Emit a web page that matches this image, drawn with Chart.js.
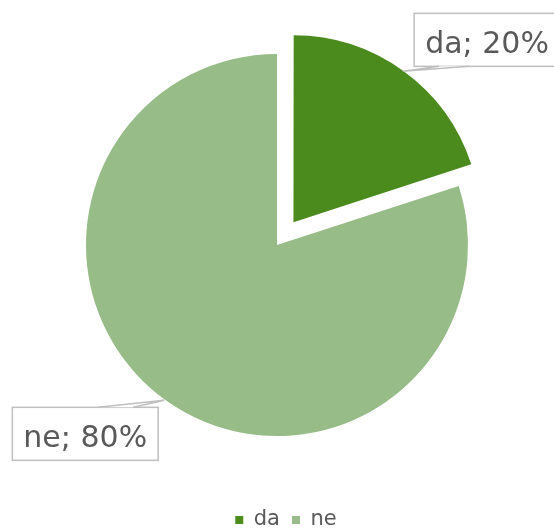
<!DOCTYPE html>
<html>
<head>
<meta charset="utf-8">
<script src="https://cdn.jsdelivr.net/npm/chart.js@4/dist/chart.umd.min.js"></script>
<style>
  html, body { margin: 0; padding: 0; background: #ffffff; }
  #wrap { width: 554px; height: 531px; position: relative; }
</style>
</head>
<body>
<div id="wrap"><canvas id="c" width="554" height="531"></canvas></div>
<script>
const categories = ["da", "ne"];
const values = [20, 80];
const sliceColors = ["#4b8b1d", "#97bc87"];
// Chart.js v4 translates an arc by offset/4, so 112 gives a 28px explode
const explode = [112, 0];
const explodedRadiusScale = 0.972;

const shrinkExploded = {
  id: "shrinkExploded",
  beforeDatasetsDraw(chart) {
    const meta = chart.getDatasetMeta(0);
    meta.data.forEach((arc) => {
      if ((arc.options.offset || 0) > 0 && !arc._shrunk) {
        arc.outerRadius = arc.outerRadius * explodedRadiusScale;
        arc._shrunk = true;
      }
    });
  }
};

const shiftLegend = {
  id: "shiftLegend",
  afterLayout(chart) {
    if (chart.legend) {
      chart.legend.left += 9;
      chart.legend.right += 9;
      chart.legend.top += 7.5;
      chart.legend.bottom += 7.5;
    }
  }
};

const calloutPlugin = {
  id: "callouts",
  afterDatasetsDraw(chart) {
    const ctx = chart.ctx;
    const meta = chart.getDatasetMeta(0);
    const total = values.reduce((a, b) => a + b, 0);
    ctx.save();
    ctx.font = "30px 'DejaVu Sans'";
    meta.data.forEach((arc, i) => {
      const p = arc.getProps(["x", "y", "startAngle", "endAngle", "outerRadius"], true);
      const off = (arc.options.offset || 0) / 4;
      const mid = (p.startAngle + p.endAngle) / 2;
      const cx = p.x + Math.cos(mid) * off;
      const cy = p.y + Math.sin(mid) * off;
      const tx = cx + Math.cos(mid) * (p.outerRadius + 1);
      const ty = cy + Math.sin(mid) * (p.outerRadius + 1);
      const text = categories[i] + "; " + Math.round(values[i] / total * 100) + "%";
      const tw = ctx.measureText(text).width;
      const bw = tw + 22, bh = 53;
      const right = Math.cos(mid) >= 0;
      const up = Math.sin(mid) < 0;
      const bx = right ? tx + 11 : tx - 6 - bw;
      const by = up ? ty - 5 - bh : ty + 7;
      ctx.fillStyle = "#ffffff";
      ctx.fillRect(bx, by, bw, bh);
      ctx.strokeStyle = "#bfbfbf";
      ctx.lineWidth = 1.5;
      ctx.strokeRect(bx, by, bw, bh);
      const ey = up ? by + bh : by;
      const b1 = right ? bx + 25 : bx + bw - 25;
      const b2 = right ? bx + 55 : bx + bw - 60;
      ctx.beginPath();
      ctx.moveTo(tx, ty);
      ctx.lineTo(b1, ey);
      ctx.lineTo(b2, ey);
      ctx.closePath();
      ctx.fillStyle = "#ffffff";
      ctx.fill();
      ctx.beginPath();
      ctx.moveTo(b1, ey); ctx.lineTo(tx, ty); ctx.lineTo(b2, ey);
      ctx.stroke();
      ctx.fillStyle = "#595959";
      ctx.textBaseline = "alphabetic";
      ctx.textAlign = "left";
      ctx.fillText(text, bx + 11, by + 40);
    });
    ctx.restore();
  }
};

new Chart(document.getElementById("c"), {
  type: "pie",
  data: {
    labels: categories,
    datasets: [{
      data: values,
      backgroundColor: sliceColors,
      borderWidth: 0,
      offset: explode,
      hoverOffset: 0
    }]
  },
  options: {
    responsive: false,
    animation: false,
    radius: 191,
    layout: { padding: { top: 0, bottom: -2, left: 0, right: 0 } },
    plugins: {
      tooltip: { enabled: false },
      legend: {
        position: "bottom",
        labels: {
          boxWidth: 8,
          boxHeight: 8,
          padding: 12,
          color: "#595959",
          font: { family: "'DejaVu Sans'", size: 21 }
        }
      }
    }
  },
  plugins: [shrinkExploded, shiftLegend, calloutPlugin]
});
</script>
</body>
</html>
